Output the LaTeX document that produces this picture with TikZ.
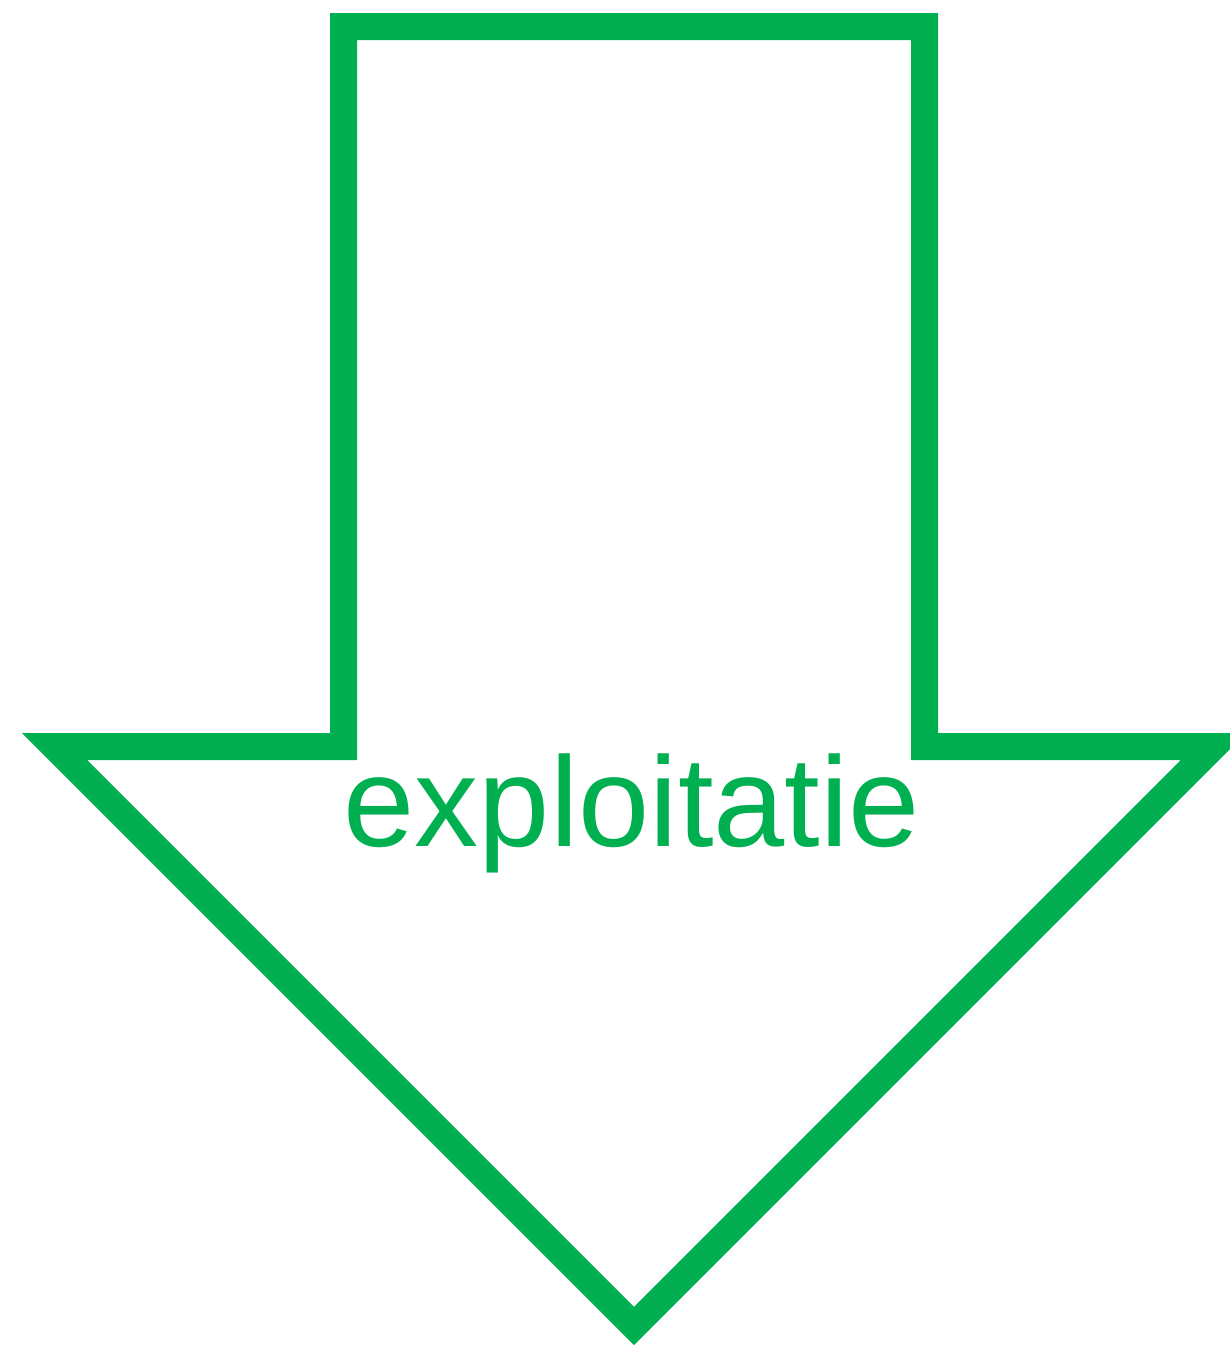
\documentclass[tikz,border=0pt]{standalone}
\usepackage{fontspec}
\setmainfont{Liberation Sans}
\definecolor{offgreen}{HTML}{00B050}
\begin{document}
\begin{tikzpicture}[x=1pt,y=-1pt,
  arrowline/.style={draw=offgreen,line width=27pt,line join=miter},
  labeltext/.style={text=offgreen,font=\fontsize{128}{150}\selectfont,inner sep=0pt,anchor=base}]
\useasboundingbox (0,0) rectangle (1230,1345);
\draw[arrowline] (343.5,26.5) -- (924.5,26.5) -- (924.5,746.5) -- (1213.5,746.5)
  -- (634,1326) -- (54.5,746.5) -- (343.5,746.5) -- cycle;
\node[labeltext] (lbl) at (632,846) {exploitatie};
\end{tikzpicture}
\end{document}
